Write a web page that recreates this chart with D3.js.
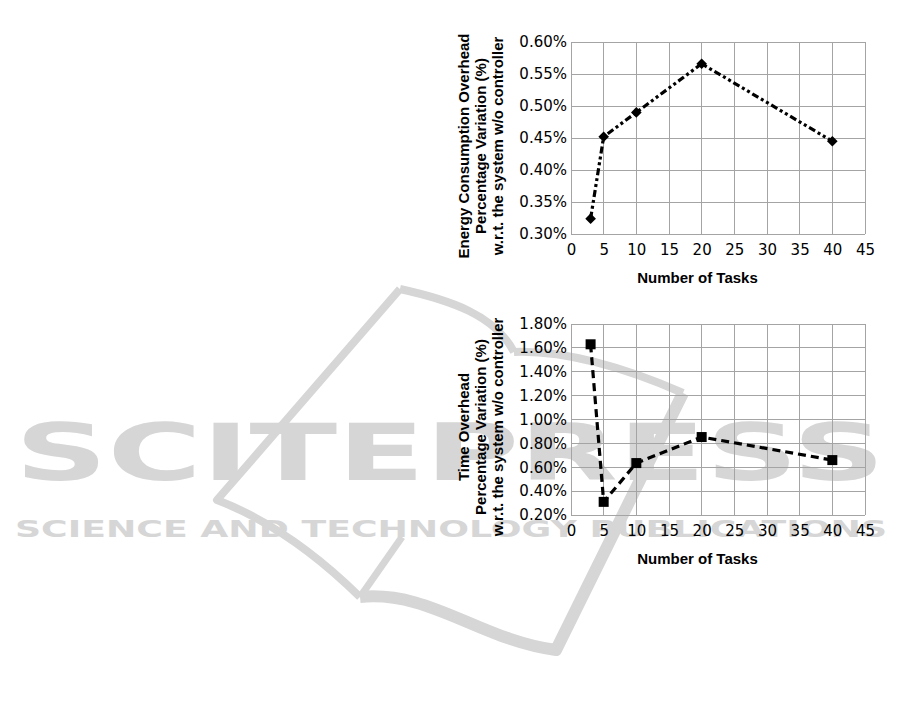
<!DOCTYPE html>
<html>
<head>
<meta charset="utf-8">
<script src="https://cdn.jsdelivr.net/npm/d3@7"></script>
<style>
  html, body { margin: 0; padding: 0; background: #fff; }
  svg { display: block; }
</style>
</head>
<body>
<svg id="chart" width="901" height="713"></svg>
<script>
// ---- data ----
const tasks = [3, 5, 10, 20, 40];
const energyOverhead = [0.324, 0.452, 0.490, 0.566, 0.445];
const timeOverhead = [1.63, 0.31, 0.635, 0.853, 0.66];
const xTicks = [0, 5, 10, 15, 20, 25, 30, 35, 40, 45];
const energyTicks = [0.30, 0.35, 0.40, 0.45, 0.50, 0.55, 0.60];
const timeTicks = [0.20, 0.40, 0.60, 0.80, 1.00, 1.20, 1.40, 1.60, 1.80];
const xTitle = "Number of Tasks";
const energyTitle = ["Energy Consumption Overhead", "Percentage Variation (%)", "w.r.t. the system w/o controller"];
const timeTitle = ["Time Overhead", "Percentage Variation (%)", "w.r.t. the system w/o controller"];
const watermarkBig = "SCITEPRESS";
const watermarkSmall = "SCIENCE AND TECHNOLOGY PUBLICATIONS";

const svg = d3.select("#chart");
const wmColor = "#d6d6d6";

// ---- watermark (decoration) ----
const wm = svg.append("g");
wm.append("text").text(watermarkBig)
  .attr("x", 15).attr("y", 480)
  .attr("textLength", 870).attr("lengthAdjust", "spacingAndGlyphs")
  .style("font-family", "DejaVu Sans").style("font-weight", "bold")
  .style("font-size", "78px").attr("fill", wmColor);
wm.append("text").text(watermarkSmall)
  .attr("x", 15).attr("y", 537)
  .attr("textLength", 872).attr("lengthAdjust", "spacingAndGlyphs")
  .style("font-family", "DejaVu Sans").style("font-weight", "bold")
  .style("font-size", "23px").attr("fill", wmColor);
const logoPaths = [
  {d: "M400,289 L217,500 Q290,528 360,597", w: 8},
  {d: "M360,597 L402,537", w: 7},
  {d: "M360,597 C430,590 480,640 556,650 L683,393", w: 12},
  {d: "M400,289 C450,300 495,315 514,352", w: 8},
  {d: "M514,352 C570,350 630,370 683,393", w: 8}
];
wm.selectAll("path.logo").data(logoPaths).join("path")
  .attr("class", "logo").attr("d", d => d.d)
  .attr("fill", "none").attr("stroke", wmColor)
  .attr("stroke-width", d => d.w).attr("stroke-linejoin", "round");

// ---- charts ----
const left = 571, right = 865;
const gridColor = "#a4a4a4";

function drawChart(cfg) {
  const g = svg.append("g");
  const x = d3.scaleLinear().domain([0, 45]).range([left, right]);
  const y = d3.scaleLinear().domain(cfg.domain).range([cfg.bottom, cfg.top]);

  // grid
  g.selectAll("line.vg").data(xTicks).join("line")
    .attr("x1", d => x(d)).attr("x2", d => x(d))
    .attr("y1", cfg.top).attr("y2", cfg.bottom)
    .attr("stroke", gridColor).attr("stroke-width", 1).attr("shape-rendering", "crispEdges");
  g.selectAll("line.hg").data(cfg.ticks).join("line")
    .attr("x1", left).attr("x2", right)
    .attr("y1", d => y(d)).attr("y2", d => y(d))
    .attr("stroke", gridColor).attr("stroke-width", 1).attr("shape-rendering", "crispEdges");

  // axes (labels only)
  const ya = g.append("g").attr("transform", `translate(${left},0)`)
    .call(d3.axisLeft(y).tickValues(cfg.ticks).tickSize(0).tickPadding(4)
      .tickFormat(d => d.toFixed(2) + "%"));
  const xa = g.append("g").attr("transform", `translate(0,${cfg.bottom})`)
    .call(d3.axisBottom(x).tickValues(xTicks).tickSize(0).tickPadding(10)
      .tickFormat(d3.format("d")));
  [ya, xa].forEach(a => {
    a.select(".domain").remove();
    a.selectAll("text").style("font-family", "DejaVu Sans").style("font-size", "15px").attr("fill", "#000");
  });

  // titles
  g.append("text").text(xTitle)
    .attr("x", 697.5).attr("y", cfg.bottom + 49)
    .attr("text-anchor", "middle")
    .style("font-family", "Liberation Sans, Arial, sans-serif").style("font-weight", "bold")
    .style("font-size", "15px").attr("fill", "#000");
  const bx = [469, 486, 503];
  cfg.title.forEach((t, i) => {
    g.append("text").text(t)
      .attr("transform", `translate(${bx[i]},${cfg.titleY}) rotate(-90)`)
      .attr("text-anchor", "middle")
      .style("font-family", "Liberation Sans, Arial, sans-serif").style("font-weight", "bold")
      .style("font-size", "15px").attr("fill", "#000");
  });

  // line
  const pts = tasks.map((t, i) => [t, cfg.values[i]]);
  g.append("path").datum(pts)
    .attr("d", d3.line().x(d => x(d[0])).y(d => y(d[1])))
    .attr("fill", "none").attr("stroke", "#000").attr("stroke-width", 3.2)
    .attr("stroke-dasharray", cfg.dash);

  // markers
  g.selectAll("path.mk").data(pts).join("path")
    .attr("class", "mk")
    .attr("transform", d => `translate(${x(d[0])},${y(d[1])})`)
    .attr("d", d3.symbol().type(cfg.symbol).size(cfg.symSize))
    .attr("fill", "#000");
}

drawChart({
  top: 42, bottom: 234, domain: [0.30, 0.60], ticks: energyTicks,
  values: energyOverhead, title: energyTitle, titleY: 146,
  dash: "7,3,3,3,3,3", symbol: d3.symbolDiamond2, symSize: 72
});
drawChart({
  top: 324, bottom: 515, domain: [0.20, 1.80], ticks: timeTicks,
  values: timeOverhead, title: timeTitle, titleY: 427,
  dash: "8,5", symbol: d3.symbolSquare, symSize: 100
});
</script>
</body>
</html>
